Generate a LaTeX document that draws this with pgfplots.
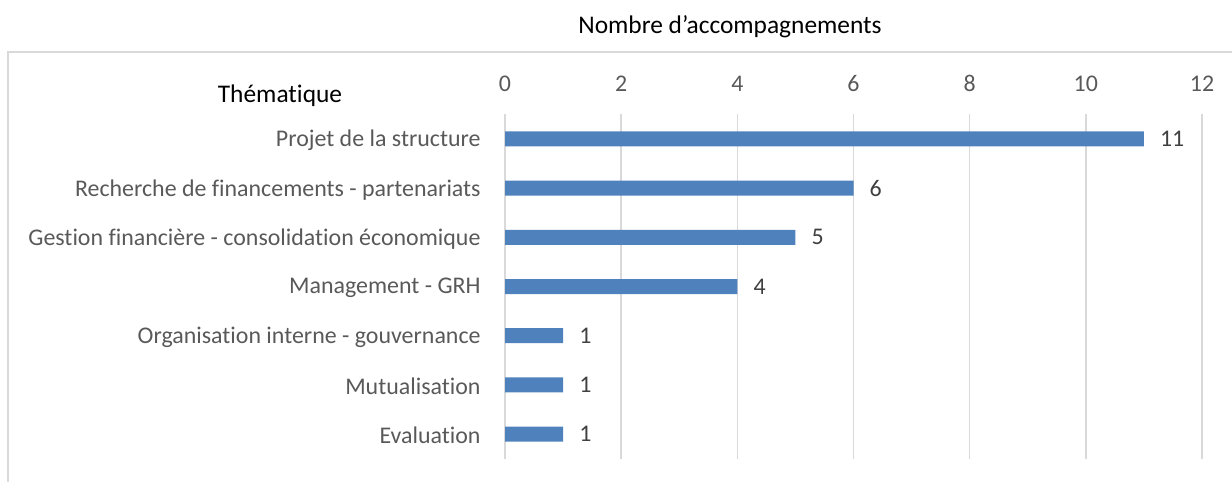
\documentclass[border=0pt]{standalone}
\usepackage{fontspec}
\setmainfont{Carlito}[Ligatures=NoCommon]
\usepackage{pgfplots}
\pgfplotsset{compat=1.18}
\definecolor{barblue}{HTML}{4F81BD}
\definecolor{gridgray}{HTML}{D9D9D9}
\definecolor{labgray}{HTML}{595959}
\definecolor{valgray}{HTML}{404040}
\begin{document}
\begin{tikzpicture}
\path[use as bounding box] (0bp,0bp) rectangle (1232bp,482bp);
\draw[gridgray, line width=1.5bp] (8bp,-5bp) -- (8bp,430bp) -- (1240bp,430bp);
\node[font=\fontsize{25.5}{30}\selectfont, anchor=center] at (730bp,455bp) {Nombre d’accompagnements};
\node[font=\fontsize{25.5}{30}\selectfont, anchor=center] at (280bp,386bp) {Thématique};
\begin{axis}[
  at={(505bp,23.4bp)}, anchor=south west,
  width=697bp, height=344.2bp, scale only axis,
  xbar, bar width=15bp,
  xmin=0, xmax=12, ymin=-0.5, ymax=6.5,
  xtick={0,2,...,12}, ytick={0,...,6},
  yticklabels={Evaluation,Mutualisation,Organisation interne - gouvernance,Management - GRH,Gestion financière - consolidation économique,Recherche de financements - partenariats,Projet de la structure},
  axis line style={draw=none},
  xmajorgrids, major grid style={gridgray, line width=1.5bp},
  tick style={draw=none},
  xticklabel pos=upper,
  /pgf/number format/assume math mode=true,
  ticklabel style={font=\fontsize{24}{28}\selectfont, text=labgray},
  xticklabel style={anchor=base, yshift=23bp},
  yticklabel style={anchor=east, inner sep=0pt, xshift=-20bp, yshift=-1.5bp},
  nodes near coords,
  nodes near coords style={font=\fontsize{24}{28}\selectfont, text=valgray, anchor=west, inner sep=0pt, xshift=16bp},
]
\addplot[fill=barblue, draw=none] coordinates {(1,0) (1,1) (1,2) (4,3) (5,4) (6,5) (11,6)};
\end{axis}
\end{tikzpicture}
\end{document}
